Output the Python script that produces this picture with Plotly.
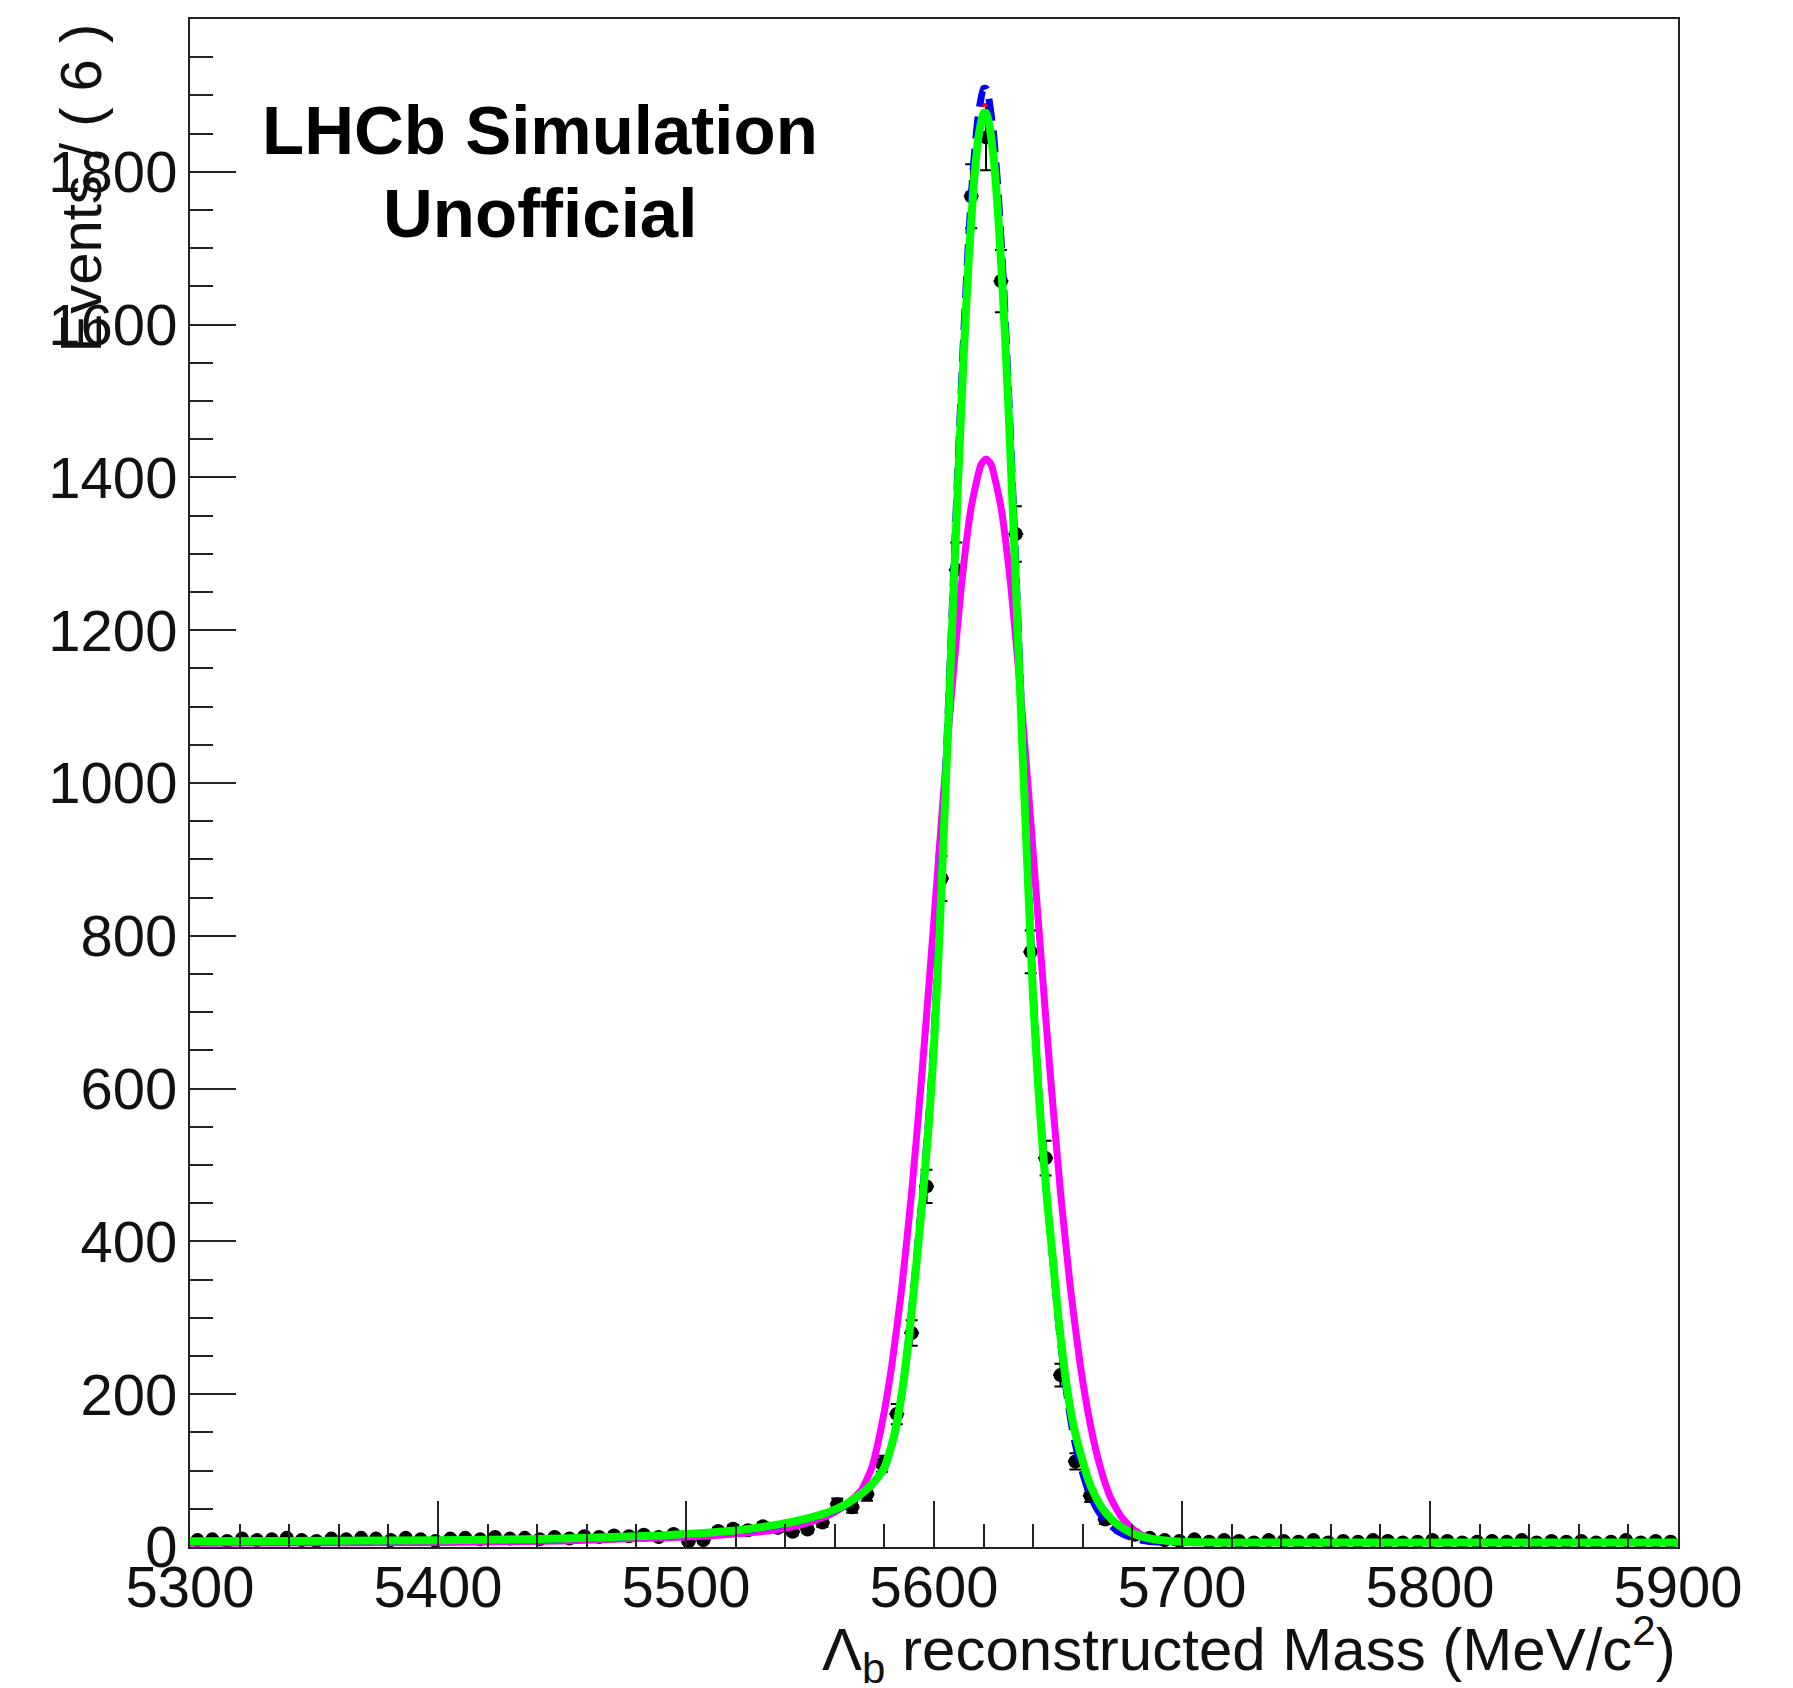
import plotly.graph_objects as go

# ---------------- data ----------------
bin_centers = [5303 + 6 * i for i in range(100)]
counts = [9, 10, 8, 11, 9, 10, 12, 9, 8, 11,
          10, 12, 11, 9, 12, 10, 8, 11, 12, 10,
          13, 11, 12, 10, 13, 11, 14, 13, 15, 14,
          16, 13, 17, 7, 9, 21, 24, 22, 27, 25,
          20, 23, 32, 56, 52, 69, 109, 174, 280, 472,
          875, 1279, 1768, 1845, 1657, 1326, 779, 509, 225, 112,
          67, 36, 24, 16, 12, 9, 8, 10, 7, 9,
          8, 6, 9, 8, 7, 9, 6, 8, 7, 9,
          8, 6, 7, 9, 8, 6, 7, 8, 7, 9,
          6, 8, 7, 8, 6, 7, 9, 6, 8, 7]
errors = [3.0, 3.2, 2.8, 3.3, 3.0, 3.2, 3.5, 3.0, 2.8, 3.3,
          3.2, 3.5, 3.3, 3.0, 3.5, 3.2, 2.8, 3.3, 3.5, 3.2,
          3.6, 3.3, 3.5, 3.2, 3.6, 3.3, 3.7, 3.6, 3.9, 3.7,
          4.0, 3.6, 4.1, 2.6, 3.0, 4.6, 4.9, 4.7, 5.2, 5.0,
          4.5, 4.8, 5.7, 7.5, 7.2, 8.3, 10.4, 13.2, 16.7, 21.7,
          29.6, 35.8, 42.0, 43.0, 40.7, 36.4, 27.9, 22.6, 15.0, 10.6,
          8.2, 6.0, 4.9, 4.0, 3.5, 3.0, 2.8, 3.2, 2.6, 3.0,
          2.8, 2.4, 3.0, 2.8, 2.6, 3.0, 2.4, 2.8, 2.6, 3.0,
          2.8, 2.4, 2.6, 3.0, 2.8, 2.4, 2.6, 2.8, 2.6, 3.0,
          2.4, 2.8, 2.6, 2.8, 2.4, 2.6, 3.0, 2.4, 2.8, 2.6]
half_bin = [3] * 100

fit_x = [5300, 5340, 5380, 5420, 5450, 5470, 5490, 5510, 5526, 5538,
         5546, 5554, 5560, 5565, 5570, 5574, 5577, 5580, 5582, 5584,
         5586, 5588, 5590, 5592, 5594, 5596, 5598, 5600, 5602, 5604,
         5606, 5608, 5610, 5612, 5614, 5616, 5618, 5620, 5621, 5622,
         5624, 5626, 5628, 5630, 5632, 5634, 5636, 5638, 5640, 5642,
         5644, 5646, 5648, 5650, 5652, 5654, 5656, 5658, 5660, 5662,
         5665, 5668, 5672, 5676, 5680, 5685, 5690, 5700, 5720, 5900]
green_y = [7.5, 8, 8.5, 9.5, 11, 13, 15, 19, 24, 30,
           35, 42, 49, 57, 68, 79, 90, 104, 123, 147,
           180, 223, 277, 340, 408, 478, 558, 656, 788, 940,
           1098, 1260, 1417, 1561, 1685, 1782, 1847, 1877, 1877, 1866,
           1819, 1737, 1627, 1492, 1340, 1180, 1018, 863, 717, 605,
           515, 440, 375, 305, 248, 200, 163, 135, 112, 90,
           67, 50, 35, 25, 18, 12.5, 9.5, 7, 6, 6]
blue_y = [7, 7.5, 8, 9, 10.5, 12.5, 15, 19, 23, 29,
          34, 41, 48, 56, 67, 78, 89, 103, 122, 146,
          180, 224, 280, 345, 415, 487, 568, 668, 802, 956,
          1117, 1282, 1441, 1588, 1714, 1812, 1878, 1909, 1909, 1898,
          1850, 1767, 1655, 1517, 1363, 1200, 1035, 877, 728, 612,
          518, 440, 372, 300, 240, 190, 150, 120, 96, 76,
          54, 39, 26, 17, 12, 8, 6.5, 6, 6, 6]
red_y = [7, 7.5, 8, 9, 10.5, 12.5, 15, 19, 23, 29,
         34, 41, 48, 56, 67, 78, 89, 103, 122, 146,
         180, 223, 278, 342, 410, 480, 560, 660, 792, 945,
         1104, 1268, 1425, 1570, 1694, 1792, 1857, 1887, 1887, 1876,
         1829, 1746, 1636, 1500, 1348, 1187, 1024, 868, 721, 607,
         516, 440, 374, 303, 245, 196, 158, 128, 104, 84,
         61, 45, 31, 21, 15, 10, 8, 6.5, 6, 6]

mag_x = [5300, 5400, 5450, 5480, 5500, 5520, 5535, 5545, 5553, 5559,
         5563, 5567, 5571, 5575, 5579, 5583, 5587, 5591, 5595, 5599,
         5603, 5607, 5611, 5615, 5619, 5621, 5623, 5627, 5631, 5635,
         5639, 5643, 5647, 5651, 5655, 5659, 5663, 5667, 5671, 5675,
         5679, 5683, 5688, 5694, 5702, 5720, 5900]
mag_y = [5, 6, 8, 11, 13, 17, 22, 28, 36, 44,
         52, 62, 76, 105, 161, 238, 339, 465, 614, 779,
         951, 1115, 1257, 1361, 1417, 1424, 1417, 1361, 1257, 1115,
         951, 779, 614, 465, 339, 238, 161, 105, 66, 42,
         27, 17, 11, 7.5, 6, 5.5, 5.5]

y_ticks = [0, 200, 400, 600, 800, 1000, 1200, 1400, 1600, 1800]
x_ticks = [5300, 5400, 5500, 5600, 5700, 5800, 5900]

# ---------------- figure ----------------
W, H = 1793, 1688
L, R, T, B = 190, 115, 19, 141
FONT = "Liberation Sans, Arial, Helvetica, sans-serif"

fig = go.Figure()

fig.add_trace(go.Scatter(
    x=bin_centers, y=counts, mode="markers",
    marker=dict(color="black", size=14, symbol="circle"),
    error_y=dict(type="data", array=errors, color="black", thickness=2, width=6),
    error_x=dict(type="data", array=half_bin, color="black", thickness=2, width=0),
    showlegend=False, hoverinfo="skip"))

fig.add_trace(go.Scatter(x=mag_x, y=mag_y, mode="lines",
                         line=dict(color="#ff00ff", width=7, shape="spline", smoothing=0.5),
                         showlegend=False))
fig.add_trace(go.Scatter(x=fit_x, y=blue_y, mode="lines",
                         line=dict(color="#0000ff", width=7, dash="22px,10px", shape="spline", smoothing=0.5),
                         showlegend=False))
fig.add_trace(go.Scatter(x=fit_x, y=red_y, mode="lines",
                         line=dict(color="#ff0000", width=3, dash="6px,14px", shape="spline", smoothing=0.5),
                         showlegend=False))
fig.add_trace(go.Scatter(x=fit_x, y=green_y, mode="lines",
                         line=dict(color="#00ff00", width=8, shape="spline", smoothing=0.5),
                         showlegend=False))

axis_common = dict(
    showgrid=False, zeroline=False, showline=True, linecolor="#222222", linewidth=2,
    mirror=True, ticks="inside", tickcolor="#222222", tickwidth=2, ticklen=46,
    layer="above traces", automargin=False,
    tickfont=dict(family=FONT, size=58, color="#111111"),
)

fig.update_xaxes(range=[5300, 5900], tickvals=x_ticks, ticktext=[str(v) for v in x_ticks],
                 minor=dict(dtick=20, tick0=5300, ticks="inside", ticklen=23,
                            tickcolor="#222222", tickwidth=2, showgrid=False),
                 ticklabelstandoff=-12, **axis_common)
fig.update_yaxes(range=[0, 2000], tickvals=y_ticks, ticktext=[str(v) for v in y_ticks],
                 minor=dict(dtick=50, tick0=0, ticks="inside", ticklen=23,
                            tickcolor="#222222", tickwidth=2, showgrid=False),
                 ticklabelstandoff=-1, **axis_common)

pw = W - L - R
ph = H - T - B

annotations = [
    dict(text="Events / ( 6 )", textangle=-90, xref="paper", yref="paper",
         x=0, y=1, xanchor="center", yanchor="top", xshift=-110, yshift=-3,
         showarrow=False, font=dict(family=FONT, size=58, color="#111111")),
    dict(text="Λ<sub>b</sub> reconstructed Mass (MeV/c<sup>2</sup>)",
         xref="paper", yref="paper", x=1, y=(1547 - 1650) / ph,
         xanchor="right", yanchor="middle", showarrow=False,
         font=dict(family=FONT, size=60, color="#111111")),
    dict(text="<b>LHCb Simulation</b>", xref="paper", yref="paper",
         x=(540 - L) / pw, y=(1547 - 131) / ph, xanchor="center", yanchor="middle",
         showarrow=False, font=dict(family=FONT, size=69, color="black")),
    dict(text="<b>Unofficial</b>", xref="paper", yref="paper",
         x=(540 - L) / pw, y=(1547 - 214) / ph, xanchor="center", yanchor="middle",
         showarrow=False, font=dict(family=FONT, size=69, color="black")),
]

fig.update_layout(
    width=W, height=H,
    margin=dict(l=L, r=R, t=T, b=B, pad=0),
    paper_bgcolor="white", plot_bgcolor="white",
    annotations=annotations,
    showlegend=False,
)

fig.write_html("out.html", config={"displayModeBar": False},
               post_script="document.body.style.margin='0px';")
